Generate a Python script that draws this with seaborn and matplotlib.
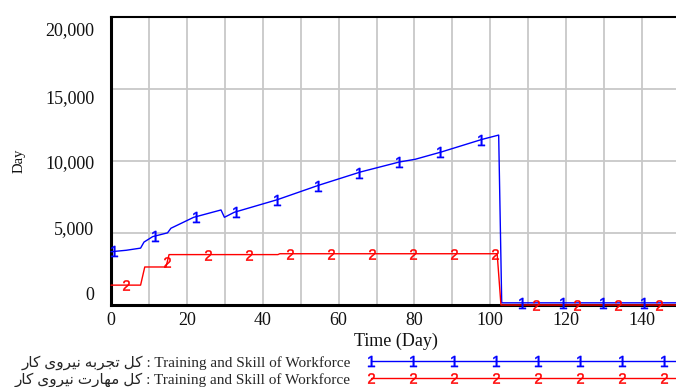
import numpy as np
import pandas as pd
import matplotlib
matplotlib.use("Agg")
import matplotlib.pyplot as plt
import seaborn as sns
from matplotlib.lines import Line2D
from matplotlib.ticker import FuncFormatter, MultipleLocator
from matplotlib.transforms import ScaledTranslation

# ---- data ----
blue_t = [0, 4, 7.8, 8.7, 11, 14.9, 15.8, 21.8, 29, 29.9, 32.5, 43.8, 54.8,
          65.8, 76, 80.2, 87, 97.8, 102.2, 103, 150]
blue_v = [3700, 3800, 3950, 4370, 4750, 5010, 5330, 6090, 6600, 6090, 6440,
          7310, 8320, 9240, 9930, 10120, 10620, 11500, 11800, 150, 150]
red_t = [0, 7.8, 8.9, 14.5, 15.3, 44.0, 44.5, 101.8, 102.8, 150]
red_v = [1380, 1380, 2640, 2640, 3500, 3500, 3560, 3560, 0, 0]

x_ticks = [0, 20, 40, 60, 80, 100, 120, 140]
y_ticks = [0, 5000, 10000, 15000, 20000]

# Persian labels, pre-shaped into visual order (presentation forms)
fa_1 = "\uFEAD\uFE8E\uFB90 \uFBFC\uFEED\uFEAE\uFBFF\uFEE7 \uFEEA\uFE91\uFEAE\uFEA0\uFE97 \uFEDE\uFB90"
fa_2 = "\uFEAD\uFE8E\uFB90 \uFBFC\uFEED\uFEAE\uFBFF\uFEE7 \uFE95\uFEAD\uFE8E\uFEEC\uFEE3 \uFEDE\uFB90"
run_name = "Training and Skill of Workforce"
labels = [fa_1 + " : " + run_name, fa_2 + " : " + run_name]

df = pd.concat([
    pd.DataFrame({"t": blue_t, "v": blue_v, "s": labels[0]}),
    pd.DataFrame({"t": red_t, "v": red_v, "s": labels[1]}),
])

sns.set_style("white")
serif = ["Liberation Serif", "DejaVu Sans"]
plt.rcParams["font.family"] = serif
plt.rcParams["mathtext.fontset"] = "custom"
plt.rcParams["mathtext.rm"] = "Liberation Sans"
plt.rcParams["mathtext.it"] = "Liberation Sans"

fig = plt.figure(figsize=(6.76, 3.87), dpi=100)
ax = fig.add_axes([111 / 676, 1 - 305 / 387, 569 / 676, 288 / 387])

BLUE = "#0000FF"
RED = "#FF0000"
colors = {labels[0]: BLUE, labels[1]: RED}
sns.lineplot(data=df, x="t", y="v", hue="s", palette=colors, estimator=None,
             sort=False, ax=ax, legend=False, linewidth=1.0, zorder=3,
             clip_on=False)

# series number markers (Vensim style)
mk = dict(linestyle="none", markeredgewidth=0.3, zorder=4, clip_on=False)
mt1 = np.arange(0.8, 150, 10.75)
mt2 = np.arange(4.0, 150, 10.8)
ax.plot(mt1, np.interp(mt1, blue_t, blue_v), marker="$1$", markersize=8,
        color=BLUE, **mk)
ax.plot(mt2, np.interp(mt2, red_t, red_v), marker="$2$", markersize=7.5,
        color=RED, **mk)

ax.set_xlim(0, 150)
ax.set_ylim(0, 20000)
ax.set_xticks(x_ticks)
ax.xaxis.set_minor_locator(MultipleLocator(10))
ax.set_yticks(y_ticks)
ax.yaxis.set_major_formatter(FuncFormatter(lambda v, p: f"{int(v):,}"))
ax.grid(True, which="both", color="#C8C8C8", linewidth=1.3)
ax.set_axisbelow(True)
ax.tick_params(axis="both", which="both", length=0, labelsize=13,
               colors="#111111")
ax.tick_params(axis="y", pad=12)
ax.tick_params(axis="x", pad=5)

# Vensim places the y labels on an evenly spaced column slightly off the grid
for lab, dy in zip(ax.get_yticklabels(), [11, 5, -1, -8, -12]):
    lab.set_transform(lab.get_transform() +
                      ScaledTranslation(0, dy / 100, fig.dpi_scale_trans))

for side in ["left", "bottom"]:
    ax.spines[side].set_color("black")
    ax.spines[side].set_linewidth(2.2)
ax.spines["top"].set_color("black")
ax.spines["top"].set_linewidth(1.5)
ax.spines["right"].set_visible(False)

ax.set_xlabel("Time (Day)", fontsize=13, color="#111111", labelpad=3)
ax.set_ylabel("Day", fontsize=10.5, color="#111111", labelpad=14)

handles = [
    Line2D([], [], color=BLUE, linewidth=1.0, marker="$1$", markersize=8,
           markeredgewidth=0.3),
    Line2D([], [], color=RED, linewidth=1.0, marker="$2$", markersize=7.5,
           markeredgewidth=0.3),
]
fig.legend(handles, labels, loc="upper right",
           bbox_to_anchor=(710 / 676, 1 - 355 / 387), frameon=False,
           markerfirst=False, numpoints=9, handlelength=22.5,
           handletextpad=1.0, borderpad=0, borderaxespad=0,
           labelspacing=0.15, prop={"family": serif, "size": 11})

fig.savefig("out.png", dpi=100)
